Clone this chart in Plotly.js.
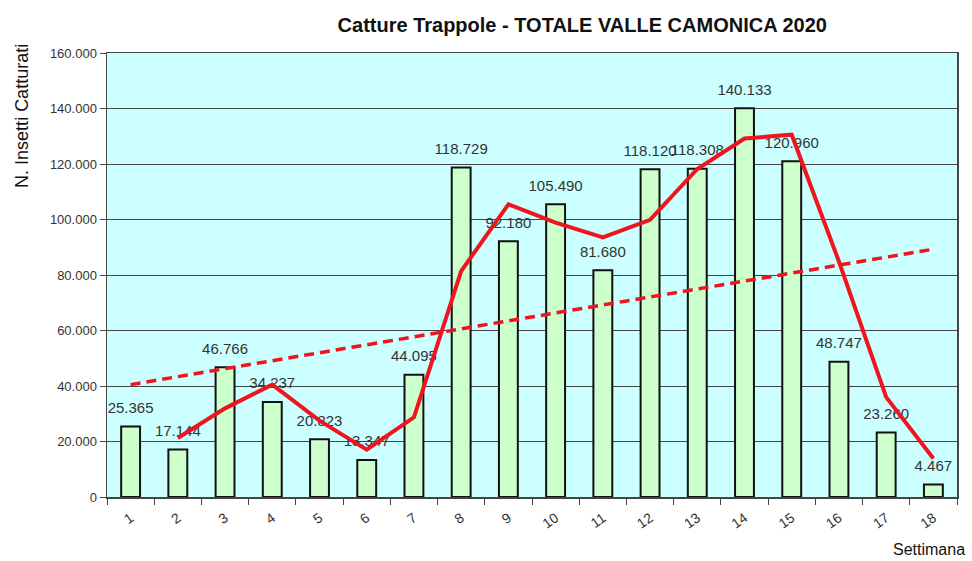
<!DOCTYPE html>
<html>
<head>
<meta charset="utf-8">
<script src="https://cdn.plot.ly/plotly-3.0.1.min.js"></script>
<style>
  html, body { margin: 0; padding: 0; background: #fff; }
  #chart { width: 972px; height: 561px; }
</style>
</head>
<body>
<div id="chart"></div>
<script>
'use strict'

// data

const weeks = ['1', '2', '3', '4', '5', '6', '7', '8', '9', '10', '11', '12', '13', '14', '15', '16', '17', '18']
const catches = [25365, 17144, 46766, 34237, 20823, 13347, 44095, 118729, 92180, 105490, 81680, 118120, 118308, 140133, 120960, 48747, 23260, 4467]

// moving average line (week 2 on)
const avgWeeks = ['2', '3', '4', '5', '6', '7', '8', '9', '10', '11', '12', '13', '14', '15', '16', '17', '18']
const avgValues = [21250, 31950, 40500, 27530, 17090, 28720, 81400, 105450, 98840, 93580, 99900, 118200, 129200, 130550, 84850, 36000, 13860]

// trend line ends
const trendWeeks = ['1', '18']
const trendValues = [40500, 89300]

const font = 'Liberation Sans, Arial, sans-serif'

const traceBars = {
  type: 'bar',
  x: weeks,
  y: catches,
  width: 0.4,
  marker: { color: '#ccffcc', line: { color: '#111', width: 2 } },
  hoverinfo: 'x+y'
}

// value labels: invisible markers on the bar tops push the text up,
// drawn before the red lines so the lines pass over them
const traceLabels = {
  type: 'scatter',
  mode: 'markers+text',
  x: weeks,
  y: catches,
  marker: { size: 14, color: 'rgba(0,0,0,0)' },
  texttemplate: '%{y:,}',
  textposition: 'top center',
  textfont: { family: font, size: 15, color: '#333' },
  cliponaxis: false
}

const traceAvg = {
  type: 'scatter',
  mode: 'lines',
  x: avgWeeks,
  y: avgValues,
  line: { color: '#f0141e', width: 4 }
}

const traceTrend = {
  type: 'scatter',
  mode: 'lines',
  x: trendWeeks,
  y: trendValues,
  line: { color: '#f0141e', width: 3.5, dash: '10px,6px' }
}

const layout = {
  width: 972,
  height: 561,
  showlegend: false,
  paper_bgcolor: '#fff',
  plot_bgcolor: '#ccffff',
  margin: { l: 107, r: 15, t: 53, b: 64 },
  separators: ',.',
  title: {
    text: '<b>Catture Trappole - TOTALE VALLE CAMONICA 2020</b>',
    font: { family: font, size: 20, color: '#111' },
    x: 0.599,
    xref: 'container',
    xanchor: 'center',
    y: 0.955,
    yref: 'container',
    yanchor: 'middle'
  },
  xaxis: {
    type: 'category',
    range: [-0.5, weeks.length - 0.5],
    tickson: 'boundaries',
    ticks: 'outside',
    ticklen: 6,
    tickcolor: '#444',
    tickangle: -35,
    ticklabelstandoff: 6,
    tickfont: { family: font, size: 14, color: '#333' },
    showline: true,
    linecolor: '#444',
    linewidth: 1.5,
    mirror: true,
    showgrid: false,
    fixedrange: true
  },
  yaxis: {
    range: [0, 160000],
    dtick: 20000,
    tickformat: ',d',
    ticks: 'outside',
    ticklen: 6,
    tickcolor: '#444',
    tickfont: { family: font, size: 13, color: '#333' },
    showline: true,
    linecolor: '#444',
    linewidth: 1.5,
    mirror: true,
    showgrid: true,
    gridcolor: '#444',
    gridwidth: 1,
    zeroline: false,
    fixedrange: true
  },
  annotations: [
    {
      text: 'N. Insetti Catturati',
      textangle: -90,
      xref: 'paper', yref: 'paper',
      x: -0.1, y: 1.025,
      xanchor: 'center', yanchor: 'top',
      showarrow: false,
      font: { family: font, size: 18, color: '#111' }
    },
    {
      text: 'Settimana',
      xref: 'paper', yref: 'paper',
      x: 1.012, y: -0.118,
      xanchor: 'right', yanchor: 'middle',
      showarrow: false,
      font: { family: font, size: 16, color: '#111' }
    }
  ]
}

Plotly.newPlot('chart', [traceBars, traceLabels, traceTrend, traceAvg], layout, { displayModeBar: false, staticPlot: true })
</script>
</body>
</html>
